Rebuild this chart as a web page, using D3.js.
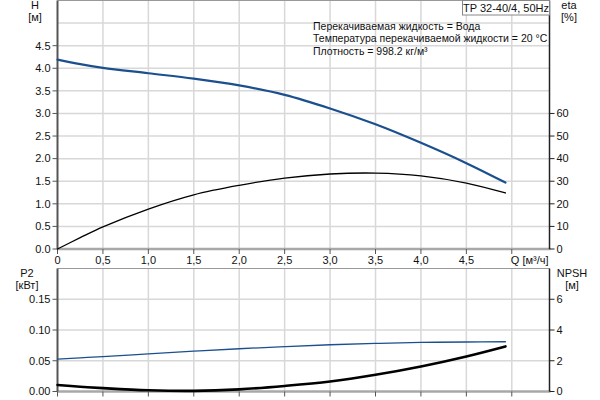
<!DOCTYPE html>
<html><head><meta charset="utf-8">
<script src="https://cdn.jsdelivr.net/npm/d3@7"></script>
<style>
body{margin:0;background:#fff;}
svg text{font-family:"Liberation Sans",Arial,sans-serif;font-size:11px;fill:#111;}
svg text.info{font-size:10.5px;}
</style></head><body>
<svg id="c" width="600" height="400"></svg>
<script>
const qPts   = [0, 0.25, 0.5, 1.0, 1.5, 2.0, 2.5, 3.0, 3.5, 4.0, 4.5, 4.93];
const head   = [4.19, 4.09, 4.01, 3.89, 3.77, 3.62, 3.41, 3.11, 2.76, 2.35, 1.90, 1.47];
const eta    = [0, 5.0, 9.8, 17.7, 24.0, 28.2, 31.4, 33.2, 33.6, 32.4, 29.2, 24.8];
const p2     = [0.0528, 0.0548, 0.0568, 0.0612, 0.0655, 0.0695, 0.0730, 0.0760, 0.0782, 0.0798, 0.0805, 0.0809];
const npsh   = [0.42, 0.31, 0.22, 0.08, 0.04, 0.14, 0.36, 0.65, 1.09, 1.63, 2.28, 2.93];

const qTicks    = [0, 0.5, 1.0, 1.5, 2.0, 2.5, 3.0, 3.5, 4.0, 4.5];
const qTickLbl  = ["0", "0,5", "1,0", "1,5", "2,0", "2,5", "3,0", "3,5", "4,0", "4,5"];
const hTicks    = [0, 0.5, 1.0, 1.5, 2.0, 2.5, 3.0, 3.5, 4.0, 4.5];
const etaTicks  = [0, 10, 20, 30, 40, 50, 60];
const p2Ticks   = [0, 0.05, 0.10, 0.15];
const npshTicks = [0, 2, 4, 6];
const infoLines = ["Перекачиваемая жидкость = Вода",
                   "Температура перекачиваемой жидкости = 20 °C",
                   "Плотность = 998.2 кг/м³"];
const title = "TP 32-40/4, 50Hz";

const svg = d3.select("#c");
const L = 57.5, R = 549.5;
const x = d3.scaleLinear().domain([0, 5.415]).range([L, R]);
const yH = d3.scaleLinear().domain([0, 5.5]).range([249, 0.5]);
const yEta = d3.scaleLinear().domain([0, 110]).range([249, 0.5]);
const yP = d3.scaleLinear().domain([0, 0.2]).range([391.5, 268.5]);
const yN = d3.scaleLinear().domain([0, 8]).range([391.5, 268.5]);

const gridX = d3.range(1, 11).map(i => i * 0.5);

function panel(yScale, top, bottom, gridY) {
  const g = svg.append("g");
  g.selectAll(".vx").data(gridX).enter().append("line")
    .attr("x1", d => x(d)).attr("x2", d => x(d))
    .attr("y1", top).attr("y2", bottom)
    .attr("stroke", "#d8d8d8").attr("stroke-width", 1.5);
  g.selectAll(".hy").data(gridY).enter().append("line")
    .attr("x1", L).attr("x2", R)
    .attr("y1", d => yScale(d)).attr("y2", d => yScale(d))
    .attr("stroke", "#d8d8d8").attr("stroke-width", 1.5);
  g.append("line").attr("x1", L).attr("x2", R).attr("y1", top).attr("y2", top)
    .attr("stroke", "#999").attr("stroke-width", 1);
  g.append("line").attr("x1", L).attr("x2", R + 1).attr("y1", bottom).attr("y2", bottom)
    .attr("stroke", "#a8a8a8").attr("stroke-width", 2.5);
  g.append("line").attr("x1", L).attr("x2", L).attr("y1", top).attr("y2", bottom)
    .attr("stroke", "#555").attr("stroke-width", 2);
  g.append("line").attr("x1", R).attr("x2", R).attr("y1", top).attr("y2", bottom)
    .attr("stroke", "#222").attr("stroke-width", 1.5);
  g.selectAll(".xt").data(qTicks.concat([5.0])).enter().append("line")
    .attr("x1", d => x(d)).attr("x2", d => x(d))
    .attr("y1", bottom).attr("y2", bottom + 5)
    .attr("stroke", "#555").attr("stroke-width", 1);
  return g;
}

const gt = panel(yH, 0.5, 249, d3.range(1, 11).map(i => i * 0.5));
gt.selectAll(".hl").data(hTicks).enter().append("line")
  .attr("x1", L - 5).attr("x2", L).attr("y1", d => yH(d)).attr("y2", d => yH(d))
  .attr("stroke", "#555");
gt.selectAll(".ht").data(hTicks).enter().append("text")
  .attr("x", L - 7).attr("y", d => yH(d)).attr("dy", "0.35em")
  .attr("text-anchor", "end").text(d => d.toFixed(1));
gt.selectAll(".el").data(etaTicks).enter().append("line")
  .attr("x1", R).attr("x2", R + 5).attr("y1", d => yEta(d)).attr("y2", d => yEta(d))
  .attr("stroke", "#222");
gt.selectAll(".et").data(etaTicks).enter().append("text")
  .attr("x", R + 7).attr("y", d => yEta(d)).attr("dy", "0.35em")
  .text(d => d);
gt.selectAll(".xl").data(qTicks).enter().append("text")
  .attr("x", (d) => x(d)).attr("y", 260).attr("dy", "0.35em")
  .attr("text-anchor", "middle").text((d, i) => qTickLbl[i]);
gt.append("text").attr("x", x(5.0) - 1).attr("y", 260).attr("dy", "0.35em").text("Q [м³/ч]");

const gb = panel(yP, 268.5, 391.5, [0.05, 0.10, 0.15]);
gb.selectAll(".pl").data(p2Ticks).enter().append("line")
  .attr("x1", L - 5).attr("x2", L).attr("y1", d => yP(d)).attr("y2", d => yP(d))
  .attr("stroke", "#555");
gb.selectAll(".pt").data(p2Ticks).enter().append("text")
  .attr("x", L - 7).attr("y", d => yP(d)).attr("dy", "0.35em")
  .attr("text-anchor", "end").text(d => d.toFixed(2));
gb.selectAll(".nl").data(npshTicks).enter().append("line")
  .attr("x1", R).attr("x2", R + 5).attr("y1", d => yN(d)).attr("y2", d => yN(d))
  .attr("stroke", "#222");
gb.selectAll(".nt").data(npshTicks).enter().append("text")
  .attr("x", R + 7).attr("y", d => yN(d)).attr("dy", "0.35em")
  .text(d => d);

function label(tx, ty, s) {
  svg.append("text").attr("x", tx).attr("y", ty).attr("text-anchor", "middle").text(s);
}
label(35, 9, "H"); label(35, 21, "[м]");
label(569, 9, "eta"); label(569, 21, "[%]");
label(27, 277, "P2"); label(27, 289, "[кВт]");
label(572, 277, "NPSH"); label(572, 289, "[м]");

const curve = d3.curveCatmullRom.alpha(0.5);
function drawLine(ys, yScale, color, w) {
  const ln = d3.line().x((d, i) => x(qPts[i])).y(d => yScale(d)).curve(curve);
  svg.append("path").attr("d", ln(ys)).attr("fill", "none")
    .attr("stroke", color).attr("stroke-width", w).attr("stroke-linecap", "round");
}
drawLine(head, yH, "#1b4f8e", 2.2);
drawLine(eta, yEta, "#000", 1.3);
drawLine(p2, yP, "#1b4f8e", 1.3);
drawLine(npsh, yN, "#000", 2.6);

infoLines.forEach((s, i) => {
  svg.append("text").attr("class", "info").attr("x", 313).attr("y", 26 + i * 12.6)
    .attr("dy", "0.35em").text(s);
});

const tb = svg.append("g");
tb.append("rect").attr("x", 462.5).attr("y", 0.5).attr("width", 87).attr("height", 14.5)
  .attr("fill", "#fff").attr("stroke", "#888").attr("stroke-width", 1);
tb.append("text").attr("x", 506).attr("y", 8).attr("dy", "0.35em")
  .attr("text-anchor", "middle").text(title);
</script>
</body></html>
